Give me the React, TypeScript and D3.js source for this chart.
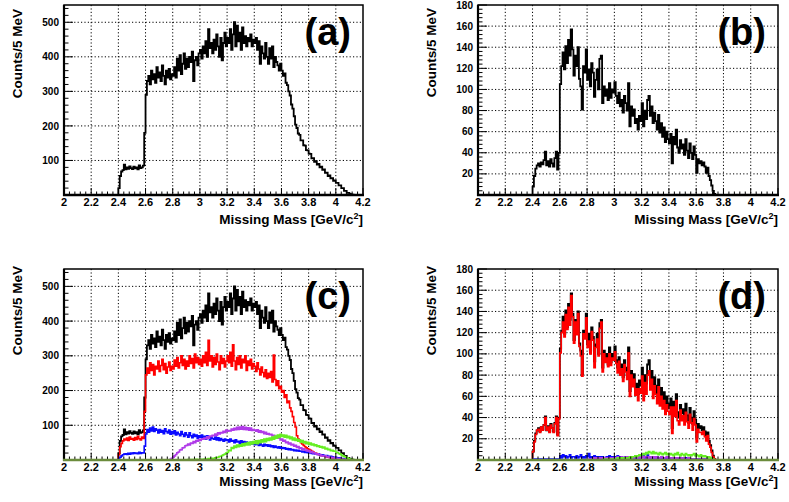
import React from 'react';
import { scaleLinear, line, curveStepAfter, range } from 'd3';

const W = 789;
const H = 502;
const FONT = '"Liberation Sans", Arial, Helvetica, sans-serif';

// bins are 10 MeV wide, each series starts at its own mass
const BIN = 0.01;
const X_MIN = 2.0;
const X_MAX = 4.2;
const X_TICK_LABELS = ['2', '2.2', '2.4', '2.6', '2.8', '3', '3.2', '3.4', '3.6', '3.8', '4', '4.2'];
const Y_TICKS_LEFT = [100, 200, 300, 400, 500];
const Y_TICKS_RIGHT = [20, 40, 60, 80, 100, 120, 140, 160, 180];

// (a) and black in (c)
const A_START = 2.4;
const A_TOTAL = [
  20, 55, 68, 72, 88, 74, 80, 76, 83, 78,
  75, 82, 77, 80, 74, 86, 78, 80, 85, 180,
  290, 330, 345, 320, 360, 335, 350, 325, 370, 340,
  355, 330, 375, 345, 320, 360, 340, 365, 335, 350,
  345, 370, 340, 395, 360, 405, 350, 380, 410, 365,
  395, 370, 400, 385, 415, 330, 390, 400, 375, 410,
  420, 395, 430, 410, 445, 400, 480, 425, 440, 410,
  450, 420, 465, 430, 400, 455, 390, 440, 470, 430,
  455, 440, 480, 420, 465, 500, 430, 490, 445, 470,
  420, 485, 440, 460, 430, 455, 445, 465, 430, 450,
  440, 455, 420, 445, 380, 430, 410, 395, 440, 400,
  380, 425, 395, 430, 370, 400, 385, 375, 360, 380,
  360, 345, 352, 325, 318, 300, 288, 262, 250, 228,
  204, 194, 178, 174, 158, 158, 144, 143, 130, 129,
  120, 119, 106, 107, 96, 98, 88, 90, 80, 82,
  73, 74, 64, 65, 55, 57, 48, 49, 41, 42,
  35, 35, 28, 28, 20, 20, 12, 12, 6, 6,
  3, 2, 1, 0,
];

// (c) components
const C_RED_START = 2.4;
const C_RED = [
  15, 38, 48, 55, 60, 58, 63, 56, 66, 60,
  62, 57, 65, 59, 68, 61, 58, 66, 62, 140,
  245, 265, 250, 280, 258, 275, 245, 270, 262, 285,
  255, 272, 290, 260, 278, 250, 268, 282, 258, 270,
  262, 288, 270, 295, 265, 280, 300, 272, 290, 262,
  285, 270, 300, 278, 292, 265, 305, 280, 295, 275,
  290, 270, 300, 280, 310, 272, 345, 285, 300, 268,
  295, 275, 305, 282, 260, 300, 278, 292, 268, 285,
  300, 280, 310, 270, 332, 285, 260, 295, 275, 300,
  265, 290, 280, 300, 258, 285, 272, 290, 262, 278,
  270, 255, 280, 262, 245, 268, 252, 240, 260, 235,
  250, 238, 255, 225, 302, 232, 215, 228, 205, 212,
  195, 200, 180, 188, 165, 170, 150, 140, 125, 108,
  95, 70, 60, 55, 50, 46, 42, 38, 35, 32,
  30, 28, 25, 23, 21, 19, 17, 16, 14, 13,
  12, 11, 10, 9, 8, 7, 6, 6, 5, 4,
  3, 3, 2, 1, 1, 0,
];
const C_BLUE_START = 2.4;
const C_BLUE = [
  3, 8, 12, 15, 17, 18, 16, 19, 17, 20,
  18, 21, 19, 20, 18, 22, 19, 21, 20, 40,
  75, 88, 80, 92, 84, 95, 82, 90, 86, 78,
  88, 80, 85, 76, 90, 82, 78, 86, 74, 82,
  76, 84, 72, 80, 75, 70, 82, 74, 68, 78,
  72, 66, 78, 70, 64, 74, 68, 72, 62, 70,
  66, 72, 62, 68, 60, 70, 64, 58, 66, 62,
  60, 66, 58, 64, 56, 62, 58, 54, 60, 56,
  58, 52, 60, 54, 56, 50, 58, 52, 54, 48,
  55, 50, 53, 47, 52, 49, 45, 51, 46, 48,
  44, 49, 45, 42, 47, 43, 40, 45, 41, 44,
  40, 43, 38, 41, 36, 40, 37, 35, 38, 34,
  36, 33, 35, 31, 33, 30, 32, 29, 30, 27,
  29, 26, 28, 25, 26, 23, 25, 22, 23, 21,
  22, 20, 19, 18, 19, 17, 16, 17, 15, 14,
  15, 13, 12, 13, 11, 10, 11, 9, 8, 8,
  7, 6, 6, 5, 4, 4, 3, 2, 2, 1,
  1, 0,
];
const C_MAGENTA_START = 2.78;
const C_MAGENTA = [
  2, 5,
  8, 12, 16, 21, 23, 29, 30, 35, 36, 41,
  42, 46, 43, 49, 48, 53, 50, 56, 54, 59,
  56, 61, 60, 63, 61, 67, 63, 69, 68, 71,
  70, 75, 71, 78, 75, 79, 78, 83, 79, 86,
  83, 85, 84, 89, 86, 91, 87, 94, 88, 95,
  89, 96, 88, 94, 87, 93, 86, 92, 85, 88,
  86, 83, 87, 80, 84, 79, 82, 76, 80, 74,
  76, 73, 74, 70, 71, 66, 68, 63, 64, 58,
  60, 54, 57, 50, 52, 46, 49, 43, 45, 40,
  42, 36, 39, 33, 35, 30, 32, 28, 29, 25,
  27, 22, 24, 20, 21, 17, 18, 15, 16, 12,
  13, 11, 12, 9, 10, 7, 8, 6, 7, 4,
  5, 4, 4, 3, 3, 2, 2, 1, 1, 0,
];
const C_GREEN_START = 2.9;
const C_GREEN = [
  0, 1, 0, 1, 1, 0, 1, 2, 1, 1,
  2, 1, 2, 3, 2, 3, 4, 3, 5, 4,
  5, 6, 7, 8, 10, 11, 13, 15, 17, 20,
  22, 28, 27, 36, 33, 40, 36, 43, 38, 44,
  40, 47, 41, 48, 43, 50, 44, 52, 46, 53,
  48, 55, 47, 56, 50, 58, 52, 60, 53, 62,
  56, 63, 58, 66, 60, 69, 63, 72, 65, 74,
  68, 72, 66, 71, 64, 68, 61, 66, 58, 63,
  56, 60, 54, 58, 51, 56, 49, 53, 47, 51,
  45, 49, 43, 46, 41, 44, 39, 41, 37, 39,
  35, 37, 32, 34, 30, 31, 27, 28, 25, 26,
  22, 21, 18, 17, 14, 12, 10, 8, 6, 4,
  3, 2, 1, 0,
];

// (b) and black in (d)
const B_START = 2.4;
const B_TOTAL = [
  8, 18, 25, 28, 30, 27, 31, 29, 33, 41,
  28, 32, 27, 34, 30, 27, 35, 41, 24, 40,
  105, 122, 135, 119, 141, 125, 147, 132, 157, 138,
  113, 132, 122, 140, 110, 103, 81, 122, 116, 138,
  109, 119, 103, 125, 116, 93, 109, 119, 100, 129,
  132, 87, 103, 94, 100, 90, 106, 92, 100, 97,
  107, 94, 87, 97, 84, 90, 78, 94, 87, 80,
  106, 65, 84, 75, 81, 68, 72, 62, 75, 70,
  87, 65, 80, 72, 90, 94, 75, 84, 68, 78,
  70, 62, 76, 59, 68, 55, 64, 50, 60, 53,
  49, 58, 30, 55, 48, 62, 45, 40, 52, 44,
  48, 38, 53, 42, 35, 49, 40, 34, 46, 38,
  21, 34, 30, 32, 28, 31, 27, 21, 26, 18,
  14, 9, 4, 1,
];

// (d) components
const D_RED_START = 2.4;
const D_RED = [
  8, 17, 24, 28, 29, 26, 31, 28, 33, 40,
  28, 31, 26, 33, 30, 26, 34, 40, 23, 39,
  101, 120, 130, 116, 137, 123, 144, 127, 155, 135,
  110, 130, 118, 138, 107, 98, 79, 119, 114, 134,
  106, 112, 100, 121, 113, 87, 106, 114, 98, 124,
  130, 83, 100, 92, 96, 88, 100, 89, 96, 94,
  102, 91, 82, 93, 80, 86, 74, 90, 83, 76,
  101, 60, 80, 69, 76, 61, 67, 56, 67, 63,
  79, 56, 73, 62, 80, 84, 66, 76, 58, 70,
  62, 53, 69, 51, 60, 48, 56, 43, 52, 46,
  43, 50, 25, 50, 41, 56, 37, 33, 47, 37,
  42, 33, 45, 36, 30, 43, 35, 28, 39, 33,
  17, 29, 26, 26, 24, 27, 22, 18, 23, 15,
  12, 7, 3, 1,
];
const D_BLUE_START = 2.4;
const D_BLUE = [
  0, 1, 1, 0, 1, 1, 0, 1, 1, 1,
  0, 1, 1, 1, 0, 1, 1, 0, 1, 1,
  4, 2, 5, 3, 4, 2, 3, 5, 2, 3,
  3, 2, 4, 2, 3, 5, 2, 3, 2, 4,
  3, 6, 2, 3, 2, 4, 2, 3, 2, 3,
  2, 3, 2, 2, 3, 2, 4, 2, 3, 2,
  3, 2, 4, 3, 2, 3, 2, 2, 3, 2,
  3, 2, 2, 3, 2, 4, 2, 3, 2, 3,
  3, 4, 2, 3, 5, 2, 3, 2, 3, 2,
  2, 3, 2, 2, 3, 1, 2, 2, 1, 2,
  2, 1, 2, 1, 2, 1, 1, 2, 1, 1,
  1, 1, 2, 1, 1, 1, 1, 1, 1, 1,
  1, 1, 0, 1, 1, 0, 1, 0, 1, 0,
  0, 1, 0, 0,
];
const D_MAGENTA_START = 2.8;
const D_MAGENTA = [
  0, 1, 1, 1, 1, 2, 1, 2, 1, 2,
  2, 1, 2, 2, 1, 2, 2, 2, 1, 2,
  2, 2, 3, 2, 2, 3, 2, 2, 3, 2,
  3, 2, 2, 3, 2, 3, 3, 2, 3, 2,
  3, 2, 3, 3, 2, 3, 2, 3, 2, 3,
  2, 3, 2, 2, 3, 2, 2, 2, 3, 2,
  2, 2, 1, 2, 2, 1, 2, 2, 1, 2,
  1, 2, 1, 1, 2, 1, 1, 1, 1, 1,
  1, 1, 1, 1, 0, 1, 1, 0, 1, 0,
  0, 1, 0,
];
const D_GREEN_START = 2.9;
const D_GREEN = [
  0, 0, 1, 0, 1, 0, 1, 1, 0, 1,
  1, 1, 2, 1, 2, 1, 2, 2, 1, 2,
  2, 3, 2, 3, 3, 4, 3, 4, 5, 4,
  5, 6, 5, 7, 6, 8, 7, 6, 8, 6,
  7, 6, 5, 7, 6, 5, 6, 7, 5, 6,
  5, 6, 5, 4, 6, 5, 7, 5, 4, 6,
  5, 4, 6, 5, 4, 5, 4, 5, 6, 4,
  5, 4, 3, 5, 4, 3, 4, 3, 2, 3,
  2, 1, 1, 0, 0,
];

const BLACK = '#000000';
const RED = '#ff0000';
const BLUE = '#0a0aff';
const MAGENTA = '#b03ae8';
const GREEN = '#66ee22';
const OLIVE = '#6b8c3c';

type Series = { start: number; values: number[]; color: string; width?: number };

type PanelProps = {
  left: number;
  right: number;
  top: number;
  bottom: number;
  yMax: number;
  yTicks: number[];
  yMinorStep: number;
  label: string;
  series: Series[];
  titleY: number;
  yTitleEnd: number;
  olive?: boolean;
};

const Panel = ({ left, right, top, bottom, yMax, yTicks, yMinorStep, label, series, titleY, yTitleEnd, olive }: PanelProps) => {
  const x = scaleLinear().domain([X_MIN, X_MAX]).range([left, right]);
  const y = scaleLinear().domain([0, yMax]).range([bottom, top]);

  const hist = line<[number, number]>()
    .x((d) => x(d[0]))
    .y((d) => y(d[1]))
    .curve(curveStepAfter);

  const pathFor = (s: Series) => {
    const pts: [number, number][] = [[X_MIN, 0]];
    s.values.forEach((v, i) => pts.push([s.start + i * BIN, v]));
    pts.push([s.start + s.values.length * BIN, 0]);
    pts.push([X_MAX, 0]);
    return hist(pts) || '';
  };

  const xMajor = X_TICK_LABELS.map((t) => +t);
  const xMinor = range(0, 56).map((i) => X_MIN + i * 0.04).filter((v) => v <= X_MAX + 1e-9);
  const yMinor = range(yMinorStep, yMax + 1e-9, yMinorStep);

  return (
    <g>
      {/* grid */}
      {xMajor.slice(1, -1).map((v) => (
        <line key={'gx' + v} x1={x(v)} x2={x(v)} y1={top} y2={bottom}
          stroke="#000" strokeWidth={1} strokeDasharray="1.2,2.2" />
      ))}
      {yTicks.filter((v) => v < yMax).map((v) => (
        <line key={'gy' + v} x1={left} x2={right} y1={y(v)} y2={y(v)}
          stroke="#000" strokeWidth={1} strokeDasharray="1.2,2.2" />
      ))}

      {/* histograms */}
      {series.map((s, i) => (
        <path key={i} d={pathFor(s)} fill="none" stroke={s.color} strokeWidth={s.width ?? 1.6} />
      ))}

      {/* ticks */}
      {xMinor.map((v, i) => (
        <line key={'xt' + i} x1={x(v)} x2={x(v)} y1={bottom}
          y2={bottom - (i % 5 === 0 ? 7 : 3.5)} stroke="#000" strokeWidth={1} />
      ))}
      {yMinor.map((v, i) => {
        const major = yTicks.some((t) => Math.abs(t - v) < 1e-6);
        return (
          <line key={'yt' + i} x1={left} x2={left + (major ? 9 : 4.5)} y1={y(v)} y2={y(v)}
            stroke="#000" strokeWidth={1} />
        );
      })}

      {/* frame */}
      <rect x={left} y={top} width={right - left} height={bottom - top} fill="none" stroke="#000" strokeWidth={1.5} />
      <line x1={left} x2={left} y1={top} y2={bottom + 1} stroke="#000" strokeWidth={2.2} />
      <line x1={left - 1} x2={right + 1} y1={bottom} y2={bottom} stroke={olive ? OLIVE : '#000'} strokeWidth={2.6} />

      {/* tick labels */}
      {X_TICK_LABELS.map((t) => (
        <text key={'xl' + t} x={x(+t)} y={bottom + 11} textAnchor="middle"
          fontFamily={FONT} fontWeight="bold" fontSize={11}>{t}</text>
      ))}
      {yTicks.map((t) => (
        <text key={'yl' + t} x={left - 5} y={y(t) + 3.6} textAnchor="end"
          fontFamily={FONT} fontWeight="bold" fontSize={10}>{t}</text>
      ))}

      {/* titles */}
      <text x={right} y={titleY} textAnchor="end" fontFamily={FONT} fontWeight="bold" fontSize={13.5}>
        <tspan>Missing Mass [GeV/c</tspan>
        <tspan dy={-5} fontSize={9}>2</tspan>
        <tspan dy={5}>]</tspan>
      </text>
      <text transform={`translate(${left - 42},${yTitleEnd}) rotate(-90)`} textAnchor="end"
        fontFamily={FONT} fontWeight="bold" fontSize={13.5}>Counts/5 MeV</text>

      <text x={right - 12} y={top + 40} textAnchor="end" fontFamily={FONT} fontWeight="bold" fontSize={38}>
        {label}
      </text>
    </g>
  );
};

export default function App() {
  return (
    <svg width={W} height={H} style={{ position: 'absolute', left: 0, top: 0, background: '#fff' }}>
      <rect width={W} height={H} fill="#fff" />
      <Panel left={64} right={363} top={5} bottom={195} yMax={550} yTicks={Y_TICKS_LEFT} yMinorStep={20}
        label="(a)" titleY={224} yTitleEnd={9}
        series={[{ start: A_START, values: A_TOTAL, color: BLACK, width: 1.8 }]} />
      <Panel left={478} right={778} top={5} bottom={195} yMax={180} yTicks={Y_TICKS_RIGHT} yMinorStep={4}
        label="(b)" titleY={224} yTitleEnd={8}
        series={[{ start: B_START, values: B_TOTAL, color: BLACK, width: 1.8 }]} />
      <Panel left={64} right={363} top={269} bottom={460} yMax={550} yTicks={Y_TICKS_LEFT} yMinorStep={20}
        label="(c)" titleY={486} yTitleEnd={266} olive
        series={[
          { start: A_START, values: A_TOTAL, color: BLACK, width: 1.8 },
          { start: C_RED_START, values: C_RED, color: RED },
          { start: C_BLUE_START, values: C_BLUE, color: BLUE },
          { start: C_MAGENTA_START, values: C_MAGENTA, color: MAGENTA },
          { start: C_GREEN_START, values: C_GREEN, color: GREEN },
        ]} />
      <Panel left={478} right={778} top={269} bottom={460} yMax={180} yTicks={Y_TICKS_RIGHT} yMinorStep={4}
        label="(d)" titleY={486} yTitleEnd={266} olive
        series={[
          { start: B_START, values: B_TOTAL, color: BLACK, width: 1.8 },
          { start: D_RED_START, values: D_RED, color: RED },
          { start: D_BLUE_START, values: D_BLUE, color: BLUE },
          { start: D_MAGENTA_START, values: D_MAGENTA, color: MAGENTA },
          { start: D_GREEN_START, values: D_GREEN, color: GREEN },
        ]} />
    </svg>
  );
}
